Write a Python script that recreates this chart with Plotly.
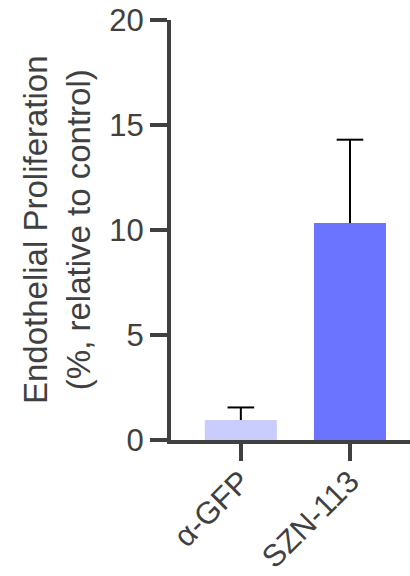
import plotly.graph_objects as go

categories = ["α-GFP", "SZN-113"]
means = [0.95, 10.33]
errors_up = [0.6, 3.97]
bar_colors = ["#cacdfc", "#6a74fe"]
y_ticks = [0, 5, 10, 15, 20]

W, H = 410, 576
L, R, T, B = 171, 0, 20, 136
axis_col = "#404040"
font_family = "Liberation Sans, Arial, Helvetica, sans-serif"

fig = go.Figure()
fig.add_trace(go.Bar(
    x=categories, y=means, width=0.66,
    marker=dict(color=bar_colors, line=dict(width=0)),
))
# upward-only error bars: stem + cap
for cat, m, e in zip(categories, means, errors_up):
    fig.add_trace(go.Scatter(
        x=[cat, cat], y=[m, m + e], mode="lines",
        line=dict(color="black", width=2), hoverinfo="skip",
    ))
    fig.add_trace(go.Scatter(
        x=[cat], y=[m + e], mode="markers",
        marker=dict(symbol="line-ew", size=19, line=dict(color="black", width=2)),
        hoverinfo="skip",
    ))

fig.update_layout(
    width=W, height=H,
    margin=dict(l=L, r=R, t=T, b=B, pad=0),
    paper_bgcolor="white", plot_bgcolor="white",
    showlegend=False,
    font=dict(family=font_family, color=axis_col, size=30),
    xaxis=dict(
        range=[-0.64, 1.55], showline=True, linecolor=axis_col, linewidth=4,
        ticks="outside", ticklen=17, tickwidth=4, tickcolor=axis_col,
        tickangle=-45, tickfont=dict(size=31, color=axis_col),
        ticklabelstandoff=-10,
        showgrid=False, zeroline=False, fixedrange=True, automargin=False,
    ),
    yaxis=dict(
        range=[0, 20], tickvals=y_ticks, showline=True, linecolor=axis_col, linewidth=4,
        ticks="outside", ticklen=17, tickwidth=4, tickcolor=axis_col,
        tickfont=dict(size=31, color=axis_col),
        showgrid=False, zeroline=False, fixedrange=True, automargin=False,
    ),
    annotations=[dict(
        text="Endothelial Proliferation<br>(%, relative to control)",
        xref="paper", yref="paper", x=(57 - L) / (W - L - R), y=0.5,
        xanchor="center", yanchor="middle", textangle=-90, showarrow=False,
        font=dict(size=33, color=axis_col, family=font_family),
    )],
)

fig.write_html("out.html")
